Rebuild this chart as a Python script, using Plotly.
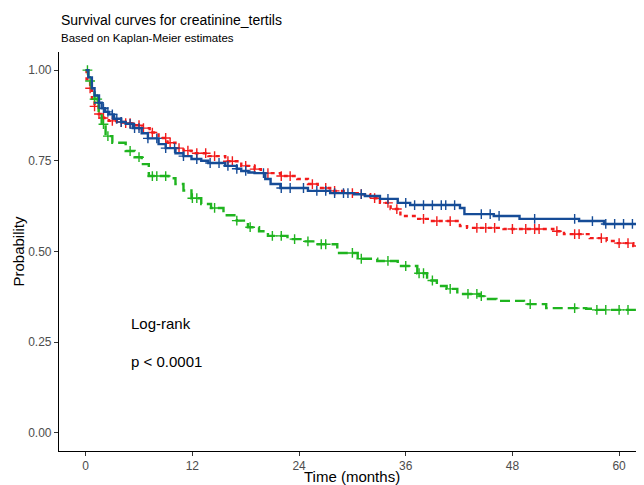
import numpy as np
import plotly.graph_objects as go

# ---- data ----
group_names = ["creatinine_tertils=1", "creatinine_tertils=2", "creatinine_tertils=3"]

red_time = [0, 0.1, 0.5, 0.7, 1.0, 1.46, 2.0, 2.6, 3.5, 4.5, 5.5, 6.3, 7.2, 8.2, 9.2, 10.1, 11.0, 11.9,
            13.8, 15.7, 17.5, 19.0, 19.7, 21.9, 23.8, 25.0, 26.1, 27.5, 29.4, 30.6, 32.0, 33.1, 34.3,
            35.4, 37.0, 38.7, 42.1, 42.9, 47.0, 52.6, 53.8, 56.7, 58.6, 59.7, 61.6, 65.0]
red_surv = [1.0, 0.975, 0.95, 0.915, 0.90, 0.879, 0.868, 0.86, 0.857, 0.854, 0.848, 0.84, 0.828, 0.813,
            0.80, 0.785, 0.778, 0.771, 0.763, 0.749, 0.736, 0.727, 0.716, 0.708, 0.70, 0.686, 0.675,
            0.667, 0.661, 0.658, 0.647, 0.634, 0.617, 0.598, 0.59, 0.584, 0.57, 0.565, 0.562, 0.556,
            0.548, 0.537, 0.529, 0.523, 0.515, 0.515]
red_censor = [0.5, 1, 1.5, 2, 3, 4, 4.5, 5, 6, 6.5, 7.5, 9, 9.5, 10.5, 11.5, 12.5, 13.5, 14.5, 16, 16.5,
              18, 19, 20.5, 22, 23, 25.5, 27, 28, 30, 31, 32.5, 34, 35, 38, 39.5, 41, 44, 45, 46, 48,
              49.5, 50.5, 51, 53, 55, 55.5, 58, 60, 61, 62]

green_time = [0, 0.3, 0.67, 1.0, 1.46, 1.8, 2.24, 3.0, 4.5, 5.5, 6.3, 7.1, 9.3, 10.1, 11.0, 11.9, 13.0,
              14.1, 15.5, 17.0, 18.25, 19.5, 20.5, 22.7, 24.5, 26.1, 28.3, 30.6, 32.8, 35.1, 37.3, 38.4,
              39.5, 40.6, 41.8, 44.3, 45.1, 46.2, 49.3, 51.8, 56.3, 57.4, 65.0]
green_surv = [1.0, 0.97, 0.942, 0.92, 0.887, 0.851, 0.818, 0.80, 0.777, 0.76, 0.741, 0.708, 0.702, 0.686,
              0.668, 0.647, 0.631, 0.62, 0.60, 0.585, 0.567, 0.556, 0.543, 0.534, 0.528, 0.52, 0.496,
              0.48, 0.474, 0.46, 0.44, 0.42, 0.405, 0.397, 0.383, 0.377, 0.369, 0.364, 0.355, 0.344,
              0.342, 0.339, 0.339]
green_censor = [0.2, 0.5, 1, 1.3, 2, 2.5, 5, 6, 7.5, 8, 9, 12, 12.5, 14.5, 17, 18.5, 21, 22, 23.5, 25,
                26.5, 27, 30, 31, 34, 36, 37.5, 38, 39, 41, 43, 44, 44.5, 50, 55, 57.5, 58.5, 60, 61]

blue_time = [0, 0.3, 0.7, 1.0, 1.5, 1.8, 2.2, 2.6, 3.2, 4.0, 4.5, 5.3, 6.3, 7.0, 8.2, 9.0, 10.1, 11.0,
             11.9, 13.0, 13.8, 15.7, 17.0, 17.5, 18.3, 19.0, 20.2, 20.8, 21.9, 25.0, 27.5, 30.2, 31.4,
             33.1, 35.1, 36.5, 42.1, 42.6, 45.9, 48.8, 55.5, 58.3, 65.0]
blue_surv = [1.0, 0.98, 0.95, 0.93, 0.91, 0.895, 0.885, 0.878, 0.866, 0.857, 0.852, 0.84, 0.826, 0.812,
             0.796, 0.785, 0.771, 0.763, 0.755, 0.75, 0.744, 0.736, 0.728, 0.722, 0.718, 0.716, 0.70,
             0.686, 0.675, 0.667, 0.661, 0.658, 0.653, 0.645, 0.634, 0.628, 0.62, 0.603, 0.598, 0.59,
             0.584, 0.576, 0.576]
blue_censor = [1.5, 2, 2.5, 3, 3.5, 4, 5, 5.5, 6, 7, 8, 9, 10, 11, 12.5, 14, 15, 16, 17, 18, 20, 22, 23,
               24.5, 26, 27, 28, 29, 29.5, 31, 34, 36, 37, 38, 39, 40, 40.5, 41.5, 44.5, 45.5, 46.5,
               50.5, 55, 57, 58.5, 59.5, 60.5, 61.5]

x_ticks = [0, 12, 24, 36, 48, 60]
y_ticks = [0.0, 0.25, 0.50, 0.75, 1.0]

title_text = "Survival curves for creatinine_tertils"
subtitle_text = "Based on Kaplan-Meier estimates"
x_title = "Time (months)"
y_title = "Probability"
pval_lines = ["Log-rank", "p < 0.0001"]
pval_x = 4.9
pval_y = [0.302, 0.198]

# ---- styles ----
FONT = "Liberation Sans, Arial, sans-serif"
series = [
    (group_names[0], red_time, red_surv, red_censor, "#F21B1B", "4px,4px"),
    (group_names[1], green_time, green_surv, green_censor, "#1FB41F", "10px,5px"),
    (group_names[2], blue_time, blue_surv, blue_censor, "#164C97", "solid"),
]


def step_value(times, surv, t):
    idx = np.searchsorted(np.asarray(times), np.asarray(t), side="right") - 1
    return np.asarray(surv)[np.clip(idx, 0, len(surv) - 1)]


fig = go.Figure()
for name, t, s, c, color, dash in series:
    fig.add_trace(go.Scatter(
        x=t, y=s, mode="lines", name=name, line=dict(color=color, width=2.4, dash=dash, shape="hv"),
        showlegend=False))
    fig.add_trace(go.Scatter(
        x=c, y=step_value(t, s, c), mode="markers", name=name + " (censored)",
        marker=dict(symbol="cross-thin", size=7, line=dict(color=color, width=1.4)),
        showlegend=False))

for txt, yv in zip(pval_lines, pval_y):
    fig.add_annotation(x=pval_x, y=yv, xref="x", yref="y", text=txt, showarrow=False,
                       xanchor="left", yanchor="middle", font=dict(family=FONT, size=15, color="black"))

fig.add_annotation(x=0, y=1, xref="paper", yref="paper", text=title_text, showarrow=False,
                   xanchor="left", yanchor="middle", yshift=32,
                   font=dict(family=FONT, size=14, color="black"))
fig.add_annotation(x=0, y=1, xref="paper", yref="paper", text=subtitle_text, showarrow=False,
                   xanchor="left", yanchor="middle", yshift=14,
                   font=dict(family=FONT, size=11.5, color="black"))
fig.add_annotation(x=0.5, y=0, xref="paper", yref="paper", text=x_title, showarrow=False,
                   xanchor="center", yanchor="middle", yshift=-25,
                   font=dict(family=FONT, size=15, color="black"))
fig.add_annotation(x=0, y=0.5, xref="paper", yref="paper", text=y_title, showarrow=False,
                   xanchor="center", yanchor="middle", xshift=-41, textangle=-90,
                   font=dict(family=FONT, size=15, color="black"))

axis_common = dict(showline=True, linecolor="black", linewidth=1.1, ticks="outside", ticklen=4,
                   tickwidth=1, tickcolor="#333333", showgrid=False, zeroline=False, automargin=False,
                   tickfont=dict(family=FONT, size=12, color="#4D4D4D"))
fig.update_xaxes(range=[-3.0, 62.8], tickvals=x_ticks, **axis_common)
fig.update_yaxes(range=[-0.05, 1.05], tickvals=y_ticks, tickformat=".2f", **axis_common)

# page body adds an 8px offset; size and margins compensate so the plot lands where the reference has it
fig.update_layout(width=636, height=477, margin=dict(l=51, r=0, t=44, b=34),
                  plot_bgcolor="white", paper_bgcolor="white", font=dict(family=FONT))

fig.write_html("out.html")
